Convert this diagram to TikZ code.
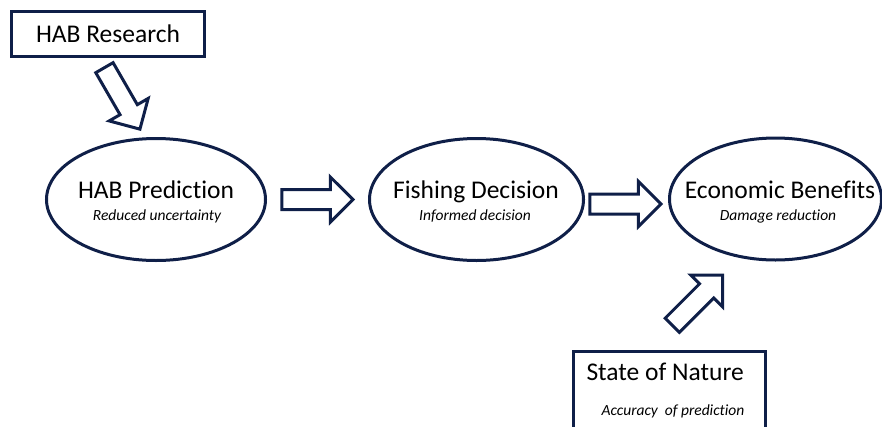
\documentclass[tikz,border=0pt]{standalone}
\usepackage{fontspec}
\setmainfont{Carlito}[Ligatures=NoCommon]
\usetikzlibrary{shapes.geometric,shapes.arrows}
\definecolor{habnavy}{HTML}{0F1F48}

\begin{document}
\begin{tikzpicture}[x=1pt,y=-1pt,
    bubble/.style={draw=habnavy,line width=3pt,ellipse,inner sep=0pt,minimum height=122pt},
    panel/.style={draw=habnavy,line width=3pt,rectangle,inner sep=0pt},
    blockarrow/.style={draw=habnavy,line width=3pt,single arrow,inner xsep=0pt,inner ysep=8.5pt,single arrow head extend=12.5pt,minimum height=71pt,anchor=tip},
    heading/.style={font=\fontsize{25.5}{30}\selectfont,anchor=base},
    remark/.style={font=\fontsize{15.5}{18}\selectfont\itshape,anchor=base}]
      \useasboundingbox (0,0) rectangle (882,426);
      \node[panel,minimum width=193pt,minimum height=45pt,font=\fontsize{25.5}{30}\selectfont] (research) at (108,34) {HAB Research};
      \node[bubble,minimum width=219pt] (prediction) at (156,199.5) {};
      \node[bubble,minimum width=214pt] (decision) at (476.5,199.5) {};
      \node[bubble,minimum width=212pt] (benefits) at (775.5,199) {};
      \node[panel,minimum width=192pt,minimum height=90pt,anchor=north] (nature) at (669.5,349.5) {};
      \node[heading] (predtitle) at (156,198) {HAB Prediction};
      \node[remark] (prednote) at (157,220) {Reduced uncertainty};
      \node[heading] (dectitle) at (476,198) {Fishing Decision};
      \node[remark] (decnote) at (475,220) {Informed decision};
      \node[heading] (bentitle) at (780,198) {Economic Benefits};
      \node[remark] (bennote) at (778,220) {Damage reduction};
      \node[heading,anchor=base west] (naturetitle) at (583,380) {State of Nature};
      \node[remark,anchor=base west] (naturenote) at (598,415) {Accuracy\ \ of prediction};
      \node[blockarrow,rotate=-60] (researcharrow) at (141,131) {};
      \node[blockarrow] (predarrow) at (355,199.5) {};
      \node[blockarrow] (decarrow) at (663,204) {};
      \node[blockarrow,rotate=45] (naturearrow) at (724,273.5) {};
    \end{tikzpicture}
\end{document}
